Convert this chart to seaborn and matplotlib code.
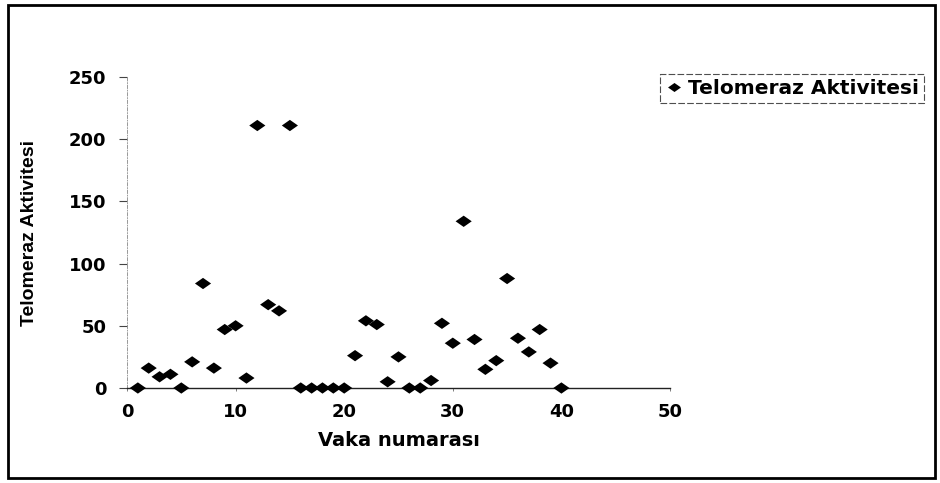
import matplotlib
matplotlib.use("Agg")
import matplotlib.pyplot as plt
from matplotlib.path import Path
from matplotlib.patches import Rectangle
import seaborn as sns
import pandas as pd

case_numbers = list(range(1, 41))
telomerase_activity = [0, 16, 9, 11, 0, 21, 84, 16, 47, 50,
                       8, 211, 67, 62, 211, 0, 0, 0, 0, 0,
                       26, 54, 51, 5, 25, 0, 0, 6, 52, 36,
                       134, 39, 15, 22, 88, 40, 29, 47, 20, 0]
x_ticks = [0, 10, 20, 30, 40, 50]
y_ticks = [0, 50, 100, 150, 200, 250]
series_name = "Telomeraz Aktivitesi"
x_label = "Vaka numarası"
y_label = "Telomeraz Aktivitesi"

df = pd.DataFrame({"case": case_numbers, "value": telomerase_activity,
                   "series": series_name})

sns.set_theme(style="white")
plt.rcParams["font.family"] = ["DejaVu Sans"]
plt.rcParams["text.color"] = "black"
plt.rcParams["axes.labelcolor"] = "black"
plt.rcParams["xtick.color"] = "black"
plt.rcParams["ytick.color"] = "black"

fig = plt.figure(figsize=(9.4, 4.83), dpi=100)
ax = fig.add_axes([127 / 940, 1 - 388 / 483, (670 - 127) / 940, (388 - 77) / 483])

diamond = Path([(-1.0, 0.0), (0.0, 0.7), (1.0, 0.0), (0.0, -0.7), (-1.0, 0.0)],
               [Path.MOVETO, Path.LINETO, Path.LINETO, Path.LINETO, Path.CLOSEPOLY])

sns.scatterplot(data=df, x="case", y="value", hue="series", palette=["black"],
                marker=diamond, s=135, edgecolor="black", linewidth=0,
                ax=ax, zorder=3, clip_on=False)

ax.set_xlim(0, 50)
ax.set_ylim(0, 250)
ax.set_xticks(x_ticks)
ax.set_yticks(y_ticks)
ax.set_xticklabels([str(t) for t in x_ticks], fontsize=13, fontweight="bold")
ax.set_yticklabels([str(t) for t in y_ticks], fontsize=13, fontweight="bold")

for side in ["top", "right"]:
    ax.spines[side].set_visible(False)
ax.spines["bottom"].set_color("#222222")
ax.spines["bottom"].set_linewidth(1.0)
ax.spines["left"].set_color("#888888")
ax.spines["left"].set_linewidth(0.6)
ax.spines["left"].set_linestyle((0, (4, 2, 1, 2)))

ax.tick_params(axis="y", left=True, direction="out", length=6, width=0.8,
               color="#444444", pad=9)
ax.tick_params(axis="x", bottom=True, direction="out", length=2, width=0.6,
               color="#666666", pad=9)

ax.set_xlabel(x_label, fontsize=14, fontweight="bold", labelpad=7)
ax.set_ylabel(y_label, fontsize=14, fontweight="heavy", labelpad=22,
              family=["Liberation Sans Narrow", "Liberation Sans", "DejaVu Sans"])

leg = ax.legend(loc="upper left", bbox_to_anchor=(660 / 940, 1 - 74 / 483),
                bbox_transform=fig.transFigure, borderaxespad=0, frameon=True,
                fancybox=False, edgecolor="#222222",
                prop={"size": 14.5, "weight": "bold"},
                handletextpad=0.25, borderpad=0.25, markerscale=0.8,
                handlelength=0.9)
leg.get_frame().set_linewidth(0.8)
leg.get_frame().set_linestyle((0, (6, 2)))
leg.set_title(None)

fig.patches.append(Rectangle((8 / 940, 5 / 483), 927 / 940, 473 / 483,
                             transform=fig.transFigure, fill=False,
                             edgecolor="black", linewidth=2.0))

fig.savefig("out.png", dpi=100, facecolor="white")
